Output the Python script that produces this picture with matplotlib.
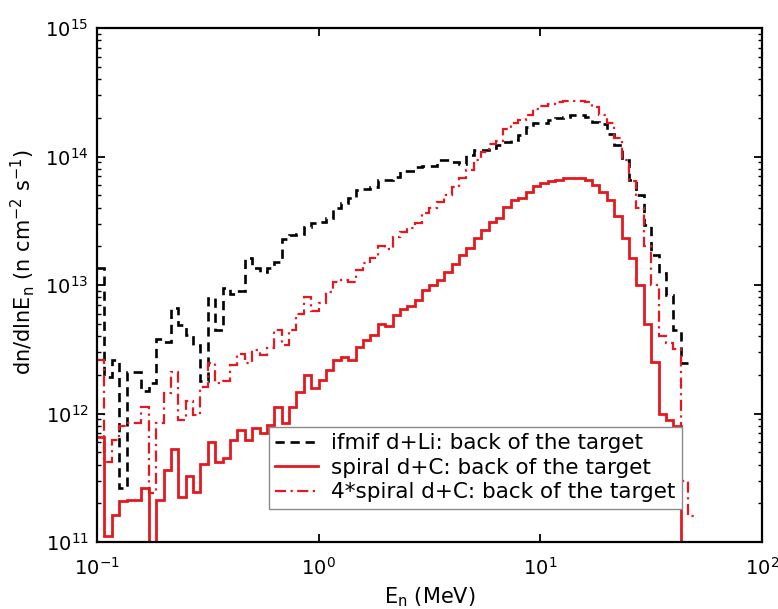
import numpy as np
import matplotlib
matplotlib.use("Agg")
import matplotlib.pyplot as plt
from matplotlib.lines import Line2D

plt.rcParams['font.family'] = ['DejaVu Sans']
plt.rcParams['mathtext.fontset'] = 'dejavusans'

# common energy bin edges (MeV), 30 bins per decade from 0.1 MeV
edges = np.logspace(-1, 1.7, 82)

# ifmif d+Li, back of the target
ifmif = [1.35e13, 1.91e12, 2.63e12, 2.63e11, 2.09e12, 2.09e12, 1.51e12, 1.74e12,
         3.80e12, 3.63e12, 6.61e12, 4.90e12, 4.07e12, 3.39e12, 1.78e12, 7.94e12,
         4.47e12, 9.55e12, 8.51e12, 8.91e12, 1.62e13, 1.35e13, 1.26e13, 1.35e13,
         1.51e13, 2.29e13, 2.45e13, 2.51e13, 2.82e13, 3.02e13, 3.09e13, 3.31e13,
         3.98e13, 4.37e13, 4.79e13, 5.50e13, 5.62e13, 5.75e13, 6.61e13, 6.61e13,
         6.92e13, 7.76e13, 7.76e13, 8.32e13, 8.51e13, 8.51e13, 9.33e13, 9.33e13,
         9.12e13, 8.71e13, 1.02e14, 1.12e14, 1.12e14, 1.17e14, 1.23e14, 1.29e14,
         1.35e14, 1.48e14, 1.70e14, 1.82e14, 1.82e14, 1.91e14, 2.00e14, 2.04e14,
         2.09e14, 2.09e14, 2.04e14, 1.86e14, 1.78e14, 1.51e14, 1.23e14, 9.33e13,
         6.61e13, 5.01e13, 2.95e13, 1.70e13, 1.23e13, 8.32e12, 4.47e12, 2.45e12]

# spiral d+C, back of the target
spiral = [6.61e11, 1.12e11, 1.62e11, 2.09e11, 2.14e11, 2.14e11, 2.63e11, 6.0e10,
          2.14e11, 3.63e11, 5.25e11, 2.24e11, 3.24e11, 2.45e11, 4.07e11, 6.03e11,
          4.17e11, 4.47e11, 6.17e11, 7.41e11, 6.17e11, 7.76e11, 7.08e11, 8.13e11,
          1.12e12, 8.51e11, 1.12e12, 1.48e12, 2.00e12, 1.58e12, 1.82e12, 2.19e12,
          2.63e12, 2.75e12, 2.63e12, 3.31e12, 3.72e12, 4.07e12, 5.01e12, 4.79e12,
          5.89e12, 6.46e12, 6.92e12, 7.59e12, 9.12e12, 1.00e13, 1.10e13, 1.26e13,
          1.45e13, 1.70e13, 1.95e13, 2.34e13, 2.69e13, 3.09e13, 3.31e13, 4.07e13,
          4.57e13, 4.79e13, 5.25e13, 5.89e13, 6.17e13, 6.46e13, 6.61e13, 6.76e13,
          6.76e13, 6.76e13, 6.61e13, 6.03e13, 5.25e13, 4.57e13, 3.47e13, 2.34e13,
          1.62e13, 1.00e13, 5.01e12, 2.51e12, 1.00e12, 8.91e11, 7.94e11, 5.0e10]

# 4*spiral d+C, back of the target
spiral4 = [2.63e12, 4.2e11, 6.2e11, 8.0e11, 8.5e11, 8.5e11, 1.12e12, 2.4e11,
           8.5e11, 1.45e12, 2.09e12, 8.9e11, 1.26e12, 9.8e11, 1.62e12, 2.45e12,
           1.74e12, 1.78e12, 2.40e12, 2.88e12, 2.47e12, 3.10e12, 2.83e12, 3.25e12,
           4.48e12, 3.40e12, 4.48e12, 5.92e12, 8.00e12, 6.32e12, 7.28e12, 8.76e12,
           1.05e13, 1.10e13, 1.05e13, 1.32e13, 1.49e13, 1.63e13, 2.00e13, 1.92e13,
           2.36e13, 2.58e13, 2.77e13, 3.04e13, 3.65e13, 4.00e13, 4.40e13, 5.04e13,
           5.80e13, 6.80e13, 7.80e13, 9.36e13, 1.08e14, 1.24e14, 1.32e14, 1.63e14,
           1.83e14, 1.92e14, 2.10e14, 2.36e14, 2.47e14, 2.58e14, 2.64e14, 2.70e14,
           2.70e14, 2.70e14, 2.64e14, 2.41e14, 2.10e14, 1.83e14, 1.39e14, 9.36e13,
           6.48e13, 4.00e13, 2.00e13, 1.00e13, 4.00e12, 3.56e12, 3.18e12, 3.0e11,
           1.6e11]

labels = ['ifmif d+Li: back of the target',
          'spiral d+C: back of the target',
          '4*spiral d+C: back of the target']

red = '#e3191f'
dash = (0, (3.5, 2.2))
dashdot = (0, (5, 2, 1, 2))

fig = plt.figure(figsize=(7.78, 6.09), dpi=100)
ax = fig.add_axes([97/778, 67/609, 665/778, 514/609])

ax.stairs(ifmif, edges[:len(ifmif)+1], baseline=None, color='black',
          linestyle=dash, linewidth=1.9)
ax.stairs(spiral, edges[:len(spiral)+1], baseline=None, color=red,
          linestyle='-', linewidth=2.0)
ax.stairs(spiral4, edges[:len(spiral4)+1], baseline=None, color=red,
          linestyle=dashdot, linewidth=1.6)

ax.set_xscale('log')
ax.set_yscale('log')
ax.set_xlim(0.1, 100)
ax.set_ylim(1e11, 1e15)

ax.xaxis.set_minor_locator(matplotlib.ticker.NullLocator())
ax.tick_params(which='both', direction='in', top=True, right=True)
ax.tick_params(which='major', length=6, width=1.3, labelsize=14, pad=6)
ax.tick_params(axis='x', which='major', pad=11)
ax.tick_params(which='minor', length=3, width=1.0)
for s in ax.spines.values():
    s.set_linewidth(1.6)

ax.set_xlabel(r'E$_{\rm n}$ (MeV)', fontsize=15, labelpad=0)
ax.xaxis.set_label_coords(0.5, -0.084)
ax.set_ylabel(r'dn/dlnE$_{\rm n}$ (n cm$^{-2}$ s$^{-1}$)', fontsize=15)
ax.yaxis.set_label_coords(-0.09, 0.545)

handles = [Line2D([], [], color='black', linestyle=dash, linewidth=1.9),
           Line2D([], [], color=red, linestyle='-', linewidth=2.0),
           Line2D([], [], color=red, linestyle=dashdot, linewidth=1.6)]
leg = ax.legend(handles, labels, loc='upper left', bbox_to_anchor=(0.2586, 0.2237),
                borderaxespad=0, fontsize=15.5, handlelength=2.0, handletextpad=0.6,
                labelspacing=0.2, borderpad=0.3, fancybox=False, framealpha=1)
leg.get_frame().set_edgecolor('#8a8a8a')
leg.get_frame().set_linewidth(1.0)

fig.savefig('out.png', dpi=100)
